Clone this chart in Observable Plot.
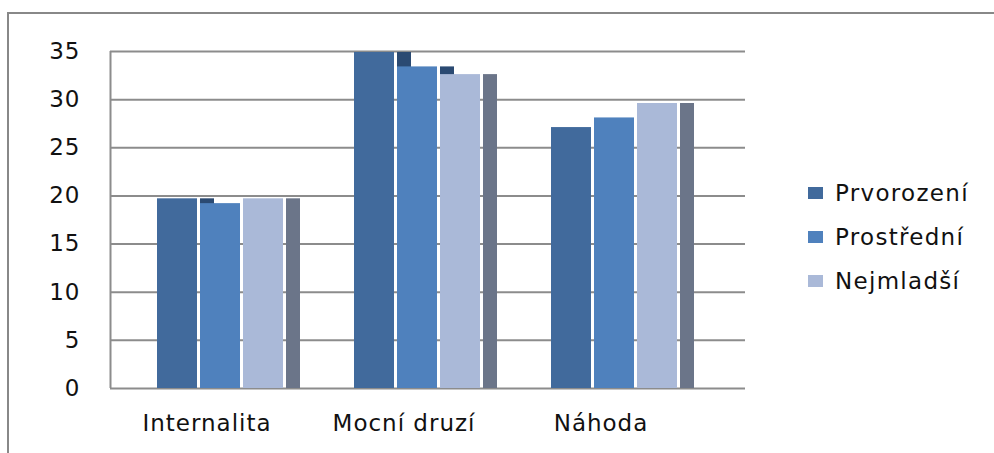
<!DOCTYPE html>
<html>
<head>
<meta charset="utf-8">
<script src="https://cdn.jsdelivr.net/npm/d3@7"></script>
<script src="https://cdn.jsdelivr.net/npm/@observablehq/plot@0.6"></script>
<style>
  html, body { margin: 0; padding: 0; background: #fff; }
  #wrap { position: relative; width: 994px; height: 453px; overflow: hidden; font-family: "DejaVu Sans", sans-serif; }
  #wrap svg { position: absolute; left: 0; top: 0; }
  #frame { position: absolute; left: 7px; top: 12px; width: 1000px; height: 460px; border-left: 2px solid #888; border-top: 2px solid #888; }
  #legend { position: absolute; left: 808px; top: 171px; font-size: 23px; letter-spacing: 1.3px; color: #111; }
  #legend .row { display: flex; align-items: center; height: 44px; }
  #legend .sw { width: 15px; height: 12px; margin-right: 12px; }
</style>
</head>
<body>
<div id="wrap">
  <div id="frame"></div>
  <div id="legend"></div>
</div>
<script>
const categories = ["Internalita", "Mocní druzí", "Náhoda"];
const seriesNames = ["Prvorození", "Prostřední", "Nejmladší"];
const prvorozeni = [19.7, 34.9, 27.1];
const prostredni = [19.2, 33.4, 28.1];
const nejmladsi = [19.7, 32.6, 29.6];
const yTicks = [0, 5, 10, 15, 20, 25, 30, 35];

const colors = ["#416a9c", "#4f81bd", "#aab9d8"];
const sideColors = ["#2b4a72", "#2b4a72", "#6b7589"];

const seriesValues = [prvorozeni, prostredni, nejmladsi];
const data = [];
categories.forEach((c, i) => {
  seriesNames.forEach((s, j) => {
    data.push({category: c, series: s, value: seriesValues[j][i]});
  });
});

const W = 994, H = 453;
const common = {width: W, height: H, marginTop: 51, marginBottom: 65};
const textStyle = {fontFamily: "DejaVu Sans, sans-serif", fontSize: "23px", color: "#111", background: "transparent", letterSpacing: "1px"};

// Background: wall grid, axis, tick labels
const back = Plot.plot({
  ...common,
  marginLeft: 110, marginRight: 249,
  style: textStyle,
  x: {axis: null, domain: [0, 1]},
  y: {domain: [0, 35], ticks: yTicks, tickSize: 0, tickPadding: 30, label: null},
  marks: [
    Plot.ruleY(yTicks, {stroke: "#8c8c8c", strokeWidth: 2}),
    Plot.ruleX([0], {stroke: "#8c8c8c", strokeWidth: 2})
  ]
});

// Foreground: bars faceted by category
const front = Plot.plot({
  ...common,
  marginLeft: 120, marginRight: 281,
  style: textStyle,
  facet: {marginTop: 0, marginBottom: 0, marginLeft: 0, marginRight: 0},
  fx: {domain: categories, padding: 0, axis: null},
  x: {domain: seriesNames, axis: null, paddingInner: 0.07, paddingOuter: 0.82},
  y: {domain: [0, 35], axis: null},
  color: {domain: seriesNames, range: colors},
  marks: [
    // depth (side) faces of each bar
    Plot.barY(data, {fx: "category", x: "series", y: "value", dx: 43, insetRight: 26,
      fill: d => sideColors[seriesNames.indexOf(d.series)]}),
    // front faces
    Plot.barY(data, {fx: "category", x: "series", y: "value", fill: "series"}),
    // category labels
    Plot.text(categories, {fx: d => d, text: d => d, frameAnchor: "bottom", dy: 42, dx: -13,
      fill: "#111", fontSize: 23})
  ]
});

const wrap = document.getElementById("wrap");
wrap.appendChild(back);
wrap.appendChild(front);

const legend = document.getElementById("legend");
seriesNames.forEach((s, i) => {
  const row = document.createElement("div");
  row.className = "row";
  const sw = document.createElement("div");
  sw.className = "sw";
  sw.style.background = colors[i];
  const t = document.createElement("span");
  t.textContent = s;
  row.appendChild(sw);
  row.appendChild(t);
  legend.appendChild(row);
});
</script>
</body>
</html>
